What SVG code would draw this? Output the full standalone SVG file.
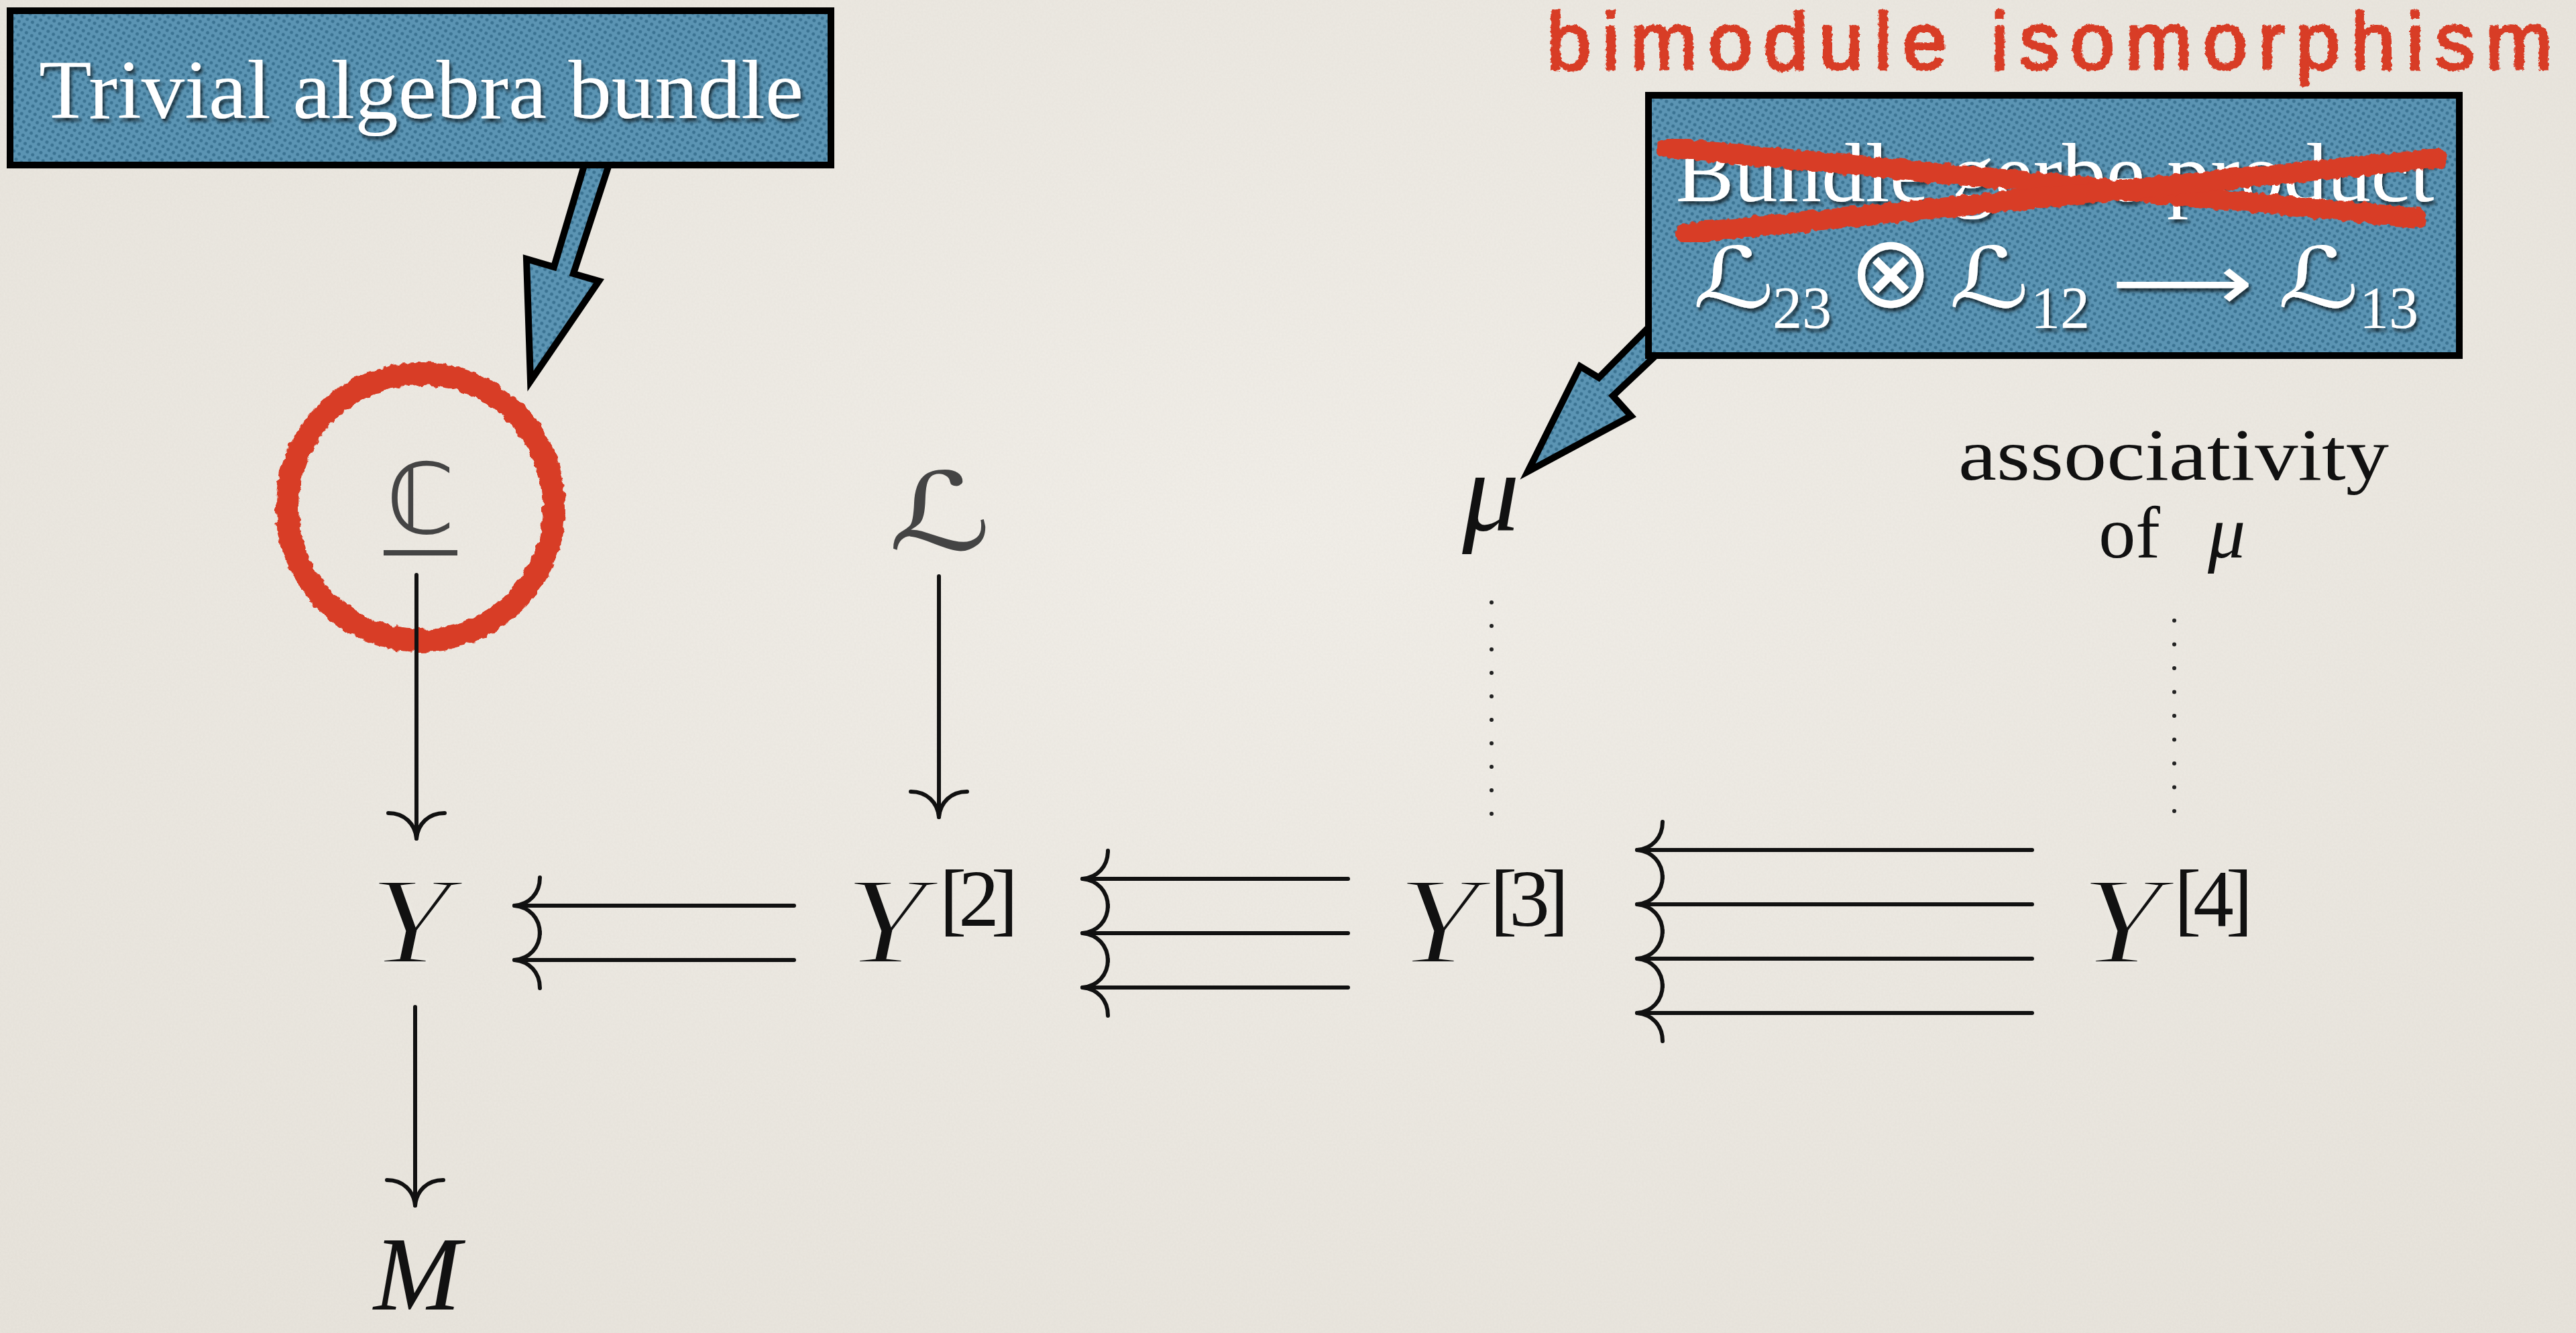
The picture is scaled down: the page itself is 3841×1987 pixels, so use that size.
<svg xmlns="http://www.w3.org/2000/svg" width="3841" height="1987" viewBox="0 0 3841 1987">
<defs>
  <radialGradient id="bg" cx="50%" cy="40%" r="75%">
    <stop offset="0" stop-color="#f2efe9"/>
    <stop offset="1" stop-color="#e8e4dc"/>
  </radialGradient>
  <filter id="paper" x="0" y="0" width="100%" height="100%">
    <feTurbulence type="fractalNoise" baseFrequency="0.35" numOctaves="3" seed="3"/>
    <feColorMatrix type="matrix" values="0 0 0 0 0.45  0 0 0 0 0.42  0 0 0 0 0.38  0 0 0 0.1 0"/>
  </filter>
  <pattern id="dots" width="9" height="9" patternUnits="userSpaceOnUse" patternTransform="rotate(30)">
    <rect width="9" height="9" fill="#5b94b3"/>
    <circle cx="4.5" cy="4.5" r="2.5" fill="#2d6585" opacity="0.7"/>
  </pattern>
  <filter id="shadow" x="-5%" y="-20%" width="110%" height="150%">
    <feDropShadow dx="3" dy="5" stdDeviation="2.5" flood-color="#000" flood-opacity="0.65"/>
  </filter>
  <filter id="rough" x="-10%" y="-10%" width="120%" height="120%">
    <feTurbulence type="fractalNoise" baseFrequency="0.09" numOctaves="2" seed="7" result="n"/>
    <feDisplacementMap in="SourceGraphic" in2="n" scale="10" xChannelSelector="R" yChannelSelector="G"/>
  </filter>
  <filter id="roughText" x="-2%" y="-20%" width="104%" height="140%">
    <feTurbulence type="fractalNoise" baseFrequency="0.18" numOctaves="2" seed="11" result="n"/>
    <feDisplacementMap in="SourceGraphic" in2="n" scale="6" xChannelSelector="R" yChannelSelector="G"/>
  </filter>
  <path id="hl" d="M38,-42 C38,-18 22,-2 0,0 C22,2 38,18 38,42"/>
  <path id="hd" d="M-42,-38 C-18,-38 -2,-22 0,0 C2,-22 18,-38 42,-38"/>
  <style>
    .math{font-family:"Liberation Serif",serif;font-style:italic;fill:#111}
    .thin{stroke:#ebe8e1;stroke-width:4}
    .rm{font-family:"Liberation Serif",serif;fill:#111}
    .gray{font-family:"DejaVu Sans",sans-serif;fill:#444}
    .conn{stroke:#111;stroke-width:6;fill:none;stroke-linecap:round;stroke-linejoin:round}
    .dots{stroke:#222;stroke-width:6;fill:none;stroke-linecap:round}
    .box{fill:url(#dots);stroke:#000;stroke-width:10;stroke-linejoin:miter}
    .ptr{fill:url(#dots);stroke:#000;stroke-width:10;stroke-linejoin:miter}
    .btext{font-family:"Liberation Serif",serif;fill:#fff;filter:url(#shadow)}
    .bsym{font-family:"DejaVu Sans",sans-serif;fill:#fff;filter:url(#shadow)}
    .redline{stroke:#d83c27;fill:none;stroke-linecap:round}
    .hand{font-family:"Liberation Sans",sans-serif;fill:#d83c27;stroke:#d83c27;stroke-width:3.5;stroke-linejoin:round}
  </style>
</defs>

<rect width="3841" height="1987" fill="url(#bg)"/>
<rect width="3841" height="1987" filter="url(#paper)"/>

<g id="highlight-circle">
  <circle cx="627" cy="756" r="199" class="redline" stroke-width="34" filter="url(#rough)"/>
</g>

<g id="connectors">
  <!-- C -> Y -->
  <line x1="621" y1="857" x2="621" y2="1250" class="conn"/>
  <use href="#hd" x="621" y="1250" class="conn"/>
  <!-- Y -> M -->
  <line x1="619" y1="1501" x2="619" y2="1797" class="conn"/>
  <use href="#hd" x="619" y="1797" class="conn"/>
  <!-- L -> Y[2] -->
  <line x1="1400" y1="859" x2="1400" y2="1218" class="conn"/>
  <use href="#hd" x="1400" y="1218" class="conn"/>
  <!-- Y[2] => Y -->
  <line x1="767" y1="1350" x2="1184" y2="1350" class="conn"/>
  <line x1="767" y1="1431" x2="1184" y2="1431" class="conn"/>
  <use href="#hl" x="767" y="1350" class="conn"/>
  <use href="#hl" x="767" y="1431" class="conn"/>
  <!-- Y[3] => Y[2] -->
  <line x1="1614" y1="1310" x2="2010" y2="1310" class="conn"/>
  <line x1="1614" y1="1391" x2="2010" y2="1391" class="conn"/>
  <line x1="1614" y1="1472" x2="2010" y2="1472" class="conn"/>
  <use href="#hl" x="1614" y="1310" class="conn"/>
  <use href="#hl" x="1614" y="1391" class="conn"/>
  <use href="#hl" x="1614" y="1472" class="conn"/>
  <!-- Y[4] => Y[3] -->
  <line x1="2441" y1="1267" x2="3030" y2="1267" class="conn"/>
  <line x1="2441" y1="1348" x2="3030" y2="1348" class="conn"/>
  <line x1="2441" y1="1429" x2="3030" y2="1429" class="conn"/>
  <line x1="2441" y1="1510" x2="3030" y2="1510" class="conn"/>
  <use href="#hl" x="2441" y="1267" class="conn"/>
  <use href="#hl" x="2441" y="1348" class="conn"/>
  <use href="#hl" x="2441" y="1429" class="conn"/>
  <use href="#hl" x="2441" y="1510" class="conn"/>
  <!-- dotted -->
  <line x1="2224" y1="898" x2="2224" y2="1215" class="dots" stroke-dasharray="0 35"/>
  <line x1="3242" y1="925" x2="3242" y2="1212" class="dots" stroke-dasharray="0 35.5"/>
</g>

<g id="node-C">
  <text x="627" y="795" class="gray" font-size="146" text-anchor="middle">ℂ</text>
  <rect x="572" y="820" width="110" height="8" fill="#444"/>
</g>
<g id="node-L">
  <text x="1325" y="819" class="gray" font-size="160" textLength="153" lengthAdjust="spacingAndGlyphs">ℒ</text>
</g>
<g id="node-mu">
  <text x="2223" y="790" class="math" font-size="170" text-anchor="middle">μ</text>
</g>
<g id="node-assoc">
  <text x="3241" y="715" class="rm" font-size="110" text-anchor="middle" textLength="642" lengthAdjust="spacingAndGlyphs">associativity</text>
  <text x="3175" y="831" class="rm" font-size="110" text-anchor="middle">of</text>
  <text x="3320" y="831" class="math" font-size="112" text-anchor="middle">μ</text>
</g>
<g id="node-Y">
  <text x="550" y="1435" class="math thin" font-size="185" textLength="122" lengthAdjust="spacingAndGlyphs">Y</text>
</g>
<g id="node-Y2">
  <text x="1259" y="1435" class="math thin" font-size="185" textLength="122" lengthAdjust="spacingAndGlyphs">Y</text>
  <text x="1401" y="1380" class="rm" font-size="121" textLength="117" lengthAdjust="spacing">[2]</text>
</g>
<g id="node-Y3">
  <text x="2083" y="1435" class="math thin" font-size="185" textLength="122" lengthAdjust="spacingAndGlyphs">Y</text>
  <text x="2222" y="1380" class="rm" font-size="121" textLength="117" lengthAdjust="spacing">[3]</text>
</g>
<g id="node-Y4">
  <text x="3102" y="1435" class="math thin" font-size="185" textLength="122" lengthAdjust="spacingAndGlyphs">Y</text>
  <text x="3242" y="1380" class="rm" font-size="121" textLength="117" lengthAdjust="spacing">[4]</text>
</g>
<g id="node-M">
  <text x="622" y="1952" class="math" font-size="156" text-anchor="middle">M</text>
</g>

<g id="callout-trivial">
  <polygon class="ptr" points="876,230 913,230 855,408 893,419 791,568 785,386 826,398"/>
  <rect class="box" x="15" y="16" width="1224" height="230"/>
  <text x="628" y="176" class="btext" font-size="124" text-anchor="middle" textLength="1140" lengthAdjust="spacingAndGlyphs">Trivial algebra bundle</text>
</g>

<g id="callout-product">
  <polygon class="ptr" points="2468,478 2384,563 2356,546 2278,703 2432,620 2405,590 2492,508"/>
  <rect class="box" x="2458" y="142" width="1209" height="388"/>
  <text x="3064" y="300" class="btext" font-size="124" text-anchor="middle" textLength="1131" lengthAdjust="spacingAndGlyphs">Bundle gerbe product</text>
  <text x="2524" y="458" class="bsym" font-size="125" textLength="122" lengthAdjust="spacingAndGlyphs">ℒ</text>
  <text x="2687" y="488" class="btext" font-size="88" text-anchor="middle">23</text>
  <text x="2819" y="457" class="bsym" font-size="150" text-anchor="middle">⊗</text>
  <text x="2906" y="458" class="bsym" font-size="125" textLength="120" lengthAdjust="spacingAndGlyphs">ℒ</text>
  <text x="3072" y="488" class="btext" font-size="88" text-anchor="middle">12</text>
  <text x="3148" y="461" class="bsym" font-size="115" textLength="212" lengthAdjust="spacingAndGlyphs">⟶</text>
  <text x="3396" y="458" class="bsym" font-size="125" textLength="122" lengthAdjust="spacingAndGlyphs">ℒ</text>
  <text x="3562" y="488" class="btext" font-size="88" text-anchor="middle">13</text>
  <g filter="url(#rough)">
    <line x1="2486" y1="220" x2="3605" y2="325" class="redline" stroke-width="30"/>
    <line x1="2514" y1="348" x2="3635" y2="236" class="redline" stroke-width="30"/>
  </g>
</g>

<g id="annotation-bimodule">
  <text x="2306" y="103" class="hand" font-size="120" textLength="1500" lengthAdjust="spacing" filter="url(#roughText)">bimodule isomorphism</text>
</g>
</svg>
